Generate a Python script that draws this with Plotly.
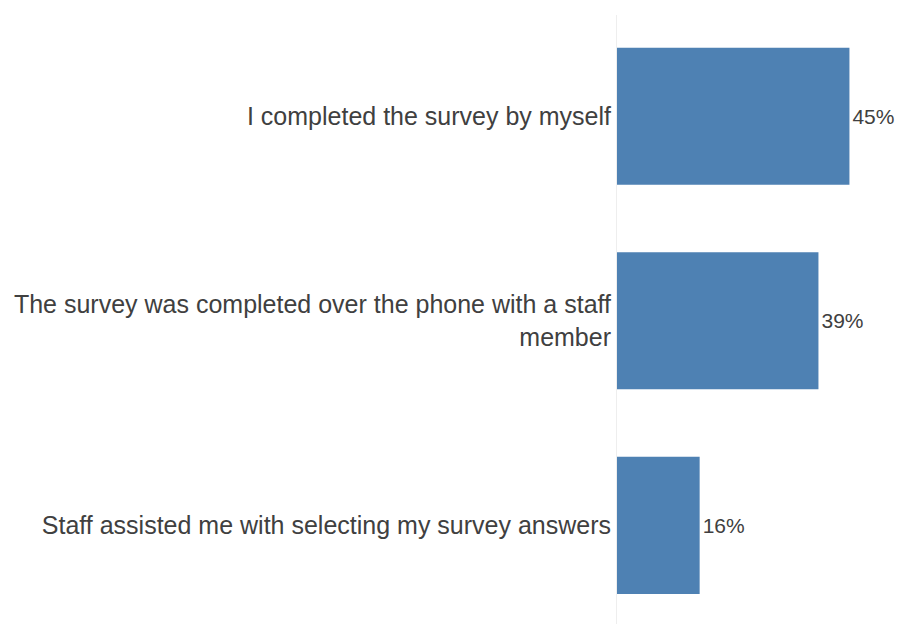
import plotly.graph_objects as go

# Survey completion method: share of respondents
categories = [
    "I completed the survey by myself",
    "The survey was completed over the phone with a staff<br>member",
    "Staff assisted me with selecting my survey answers",
]
values = [45, 39, 16]
value_labels = ["45%", "39%", "16%"]

BAR_COLOR = "#4e81b3"
TEXT_COLOR = "#404040"
FONT = "Liberation Sans, Arial, sans-serif"

fig = go.Figure(
    go.Bar(
        x=values,
        y=list(range(len(categories))),
        orientation="h",
        marker=dict(color=BAR_COLOR, line=dict(width=0)),
        width=0.67,
        text=value_labels,
        textposition="outside",
        cliponaxis=False,
        textfont=dict(family=FONT, size=21, color=TEXT_COLOR),
        hoverinfo="skip",
    )
)

fig.update_layout(
    width=898,
    height=624,
    margin=dict(l=617, r=0, t=15, b=0),
    paper_bgcolor="white",
    plot_bgcolor="white",
    showlegend=False,
    font=dict(family=FONT, color=TEXT_COLOR),
    xaxis=dict(
        range=[0, 54.4],
        showgrid=False,
        zeroline=False,
        showticklabels=False,
        showline=False,
        fixedrange=True,
    ),
    yaxis=dict(
        range=[2.482, -0.495],
        tickmode="array",
        tickvals=list(range(len(categories))),
        ticktext=categories,
        tickfont=dict(family=FONT, size=25, color=TEXT_COLOR),
        showgrid=False,
        zeroline=False,
        showline=True,
        linecolor="#eeeeee",
        linewidth=1,
        ticks="",
        automargin=False,
        fixedrange=True,
    ),
)

fig.write_html("out.html")
